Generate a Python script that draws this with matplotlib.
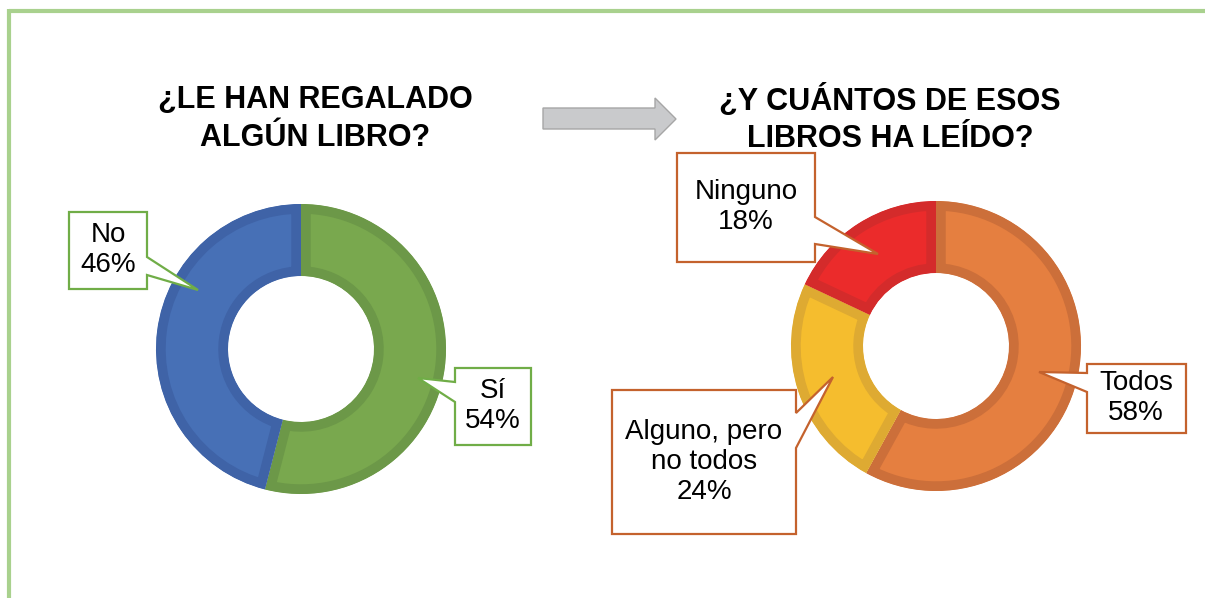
import matplotlib.pyplot as plt
from matplotlib.patches import Polygon

# data
left_labels = ["Sí", "No"]
left_values = [54, 46]
right_labels = ["Todos", "Alguno, pero\nno todos", "Ninguno"]
right_values = [58, 24, 18]

left_title = "¿LE HAN REGALADO\nALGÚN LIBRO?"
right_title = "¿Y CUÁNTOS DE ESOS\nLIBROS HA LEÍDO?"

left_colors = ["#79A84E", "#4770B6"]
left_edges = ["#6C9848", "#3F63A7"]
right_colors = ["#E57F40", "#F5BD2E", "#EB2B2B"]
right_edges = ["#CC6F3A", "#DEAA32", "#D42B2B"]

plt.rcParams['font.family'] = ['Liberation Sans', 'DejaVu Sans']

fig = plt.figure(figsize=(12.05, 5.98), dpi=100)
ax = fig.add_axes([0, 0, 1, 1])


def donut(center, values, colors, edges):
    wedges, _ = ax.pie(values, colors=colors, center=center, radius=145,
                       startangle=270, counterclock=True,
                       wedgeprops=dict(width=72, linewidth=14))
    for w, ec in zip(wedges, edges):
        w.set_edgecolor(ec)
        # keep only the inner half of the stroke
        w.set_clip_on(True)
        w.set_clip_path(w)
    return wedges


donut((301, 349), left_values, left_colors, left_edges)
donut((936, 346), right_values, right_colors, right_edges)

ax.set_xlim(0, 1205)
ax.set_ylim(598, 0)
ax.set_aspect('auto')
ax.axis('off')

# frame lines
ax.plot([9, 1205], [11, 11], color="#A9D18E", lw=3, solid_capstyle='butt')
ax.plot([9, 9], [9, 598], color="#A9D18E", lw=3, solid_capstyle='butt')

# titles
ax.text(315, 119, left_title, ha='center', va='center', fontsize=22,
        fontweight='bold', linespacing=1.32)
ax.text(890, 119, right_title, ha='center', va='center', fontsize=22,
        fontweight='bold', linespacing=1.32)

# arrow
ax.add_patch(Polygon([(543, 108), (655, 108), (655, 98), (676, 119),
                      (655, 140), (655, 129), (543, 129)],
                     closed=True, facecolor="#C9CACC", edgecolor="#A6A6A6", lw=1))

# callouts
green = "#70AD47"
orange = "#C4622D"
callouts = [
    ([(69, 212), (147, 212), (147, 257), (198, 290), (147, 275), (147, 289), (69, 289)],
     (108, 250), f"{left_labels[1]}\n{left_values[1]}%", green),
    ([(455, 368), (531, 368), (531, 445), (455, 445), (455, 402), (418, 378), (455, 382)],
     (493, 406), f"{left_labels[0]}\n{left_values[0]}%", green),
    ([(677, 153), (815, 153), (815, 217), (878, 254), (815, 244), (815, 262), (677, 262)],
     (746, 207), f"{right_labels[2]}\n{right_values[2]}%", orange),
    ([(612, 390), (796, 390), (796, 413), (833, 377), (796, 448), (796, 534), (612, 534)],
     (704, 462), f"{right_labels[1]}\n{right_values[1]}%", orange),
    ([(1087, 364), (1186, 364), (1186, 433), (1087, 433), (1087, 392), (1039, 372), (1087, 373)],
     (1136, 398), f"{right_labels[0]}\n{right_values[0]}%", orange),
]
for pts, pos, txt, col in callouts:
    ax.add_patch(Polygon(pts, closed=True, facecolor="white", edgecolor=col, lw=1.6, zorder=5))
    ax.text(pos[0], pos[1], txt, ha='center', va='center', fontsize=20,
            linespacing=1.2, zorder=6)

fig.savefig("out.png", dpi=100)
